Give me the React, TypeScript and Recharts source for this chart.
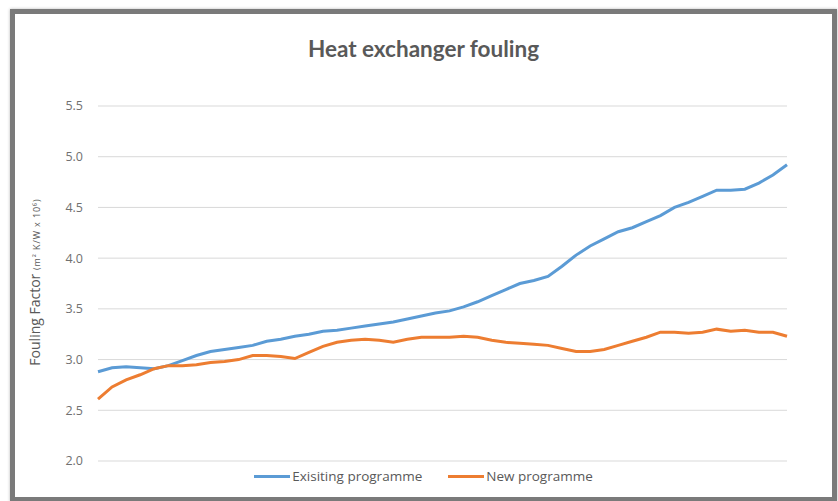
import React from 'react';
import { LineChart, Line, XAxis, YAxis, CartesianGrid, Legend } from 'recharts';

const existing = [
  2.88, 2.92, 2.93, 2.92, 2.91, 2.94, 2.99, 3.04, 3.08, 3.1, 3.12, 3.14, 3.18, 3.2, 3.23, 3.25, 3.28,
  3.29, 3.31, 3.33, 3.35, 3.37, 3.4, 3.43, 3.46, 3.48, 3.52, 3.57, 3.63, 3.69, 3.75, 3.78, 3.82, 3.92,
  4.03, 4.12, 4.19, 4.26, 4.3, 4.36, 4.42, 4.5, 4.55, 4.61, 4.67, 4.67, 4.68, 4.74, 4.82, 4.92,
];
const newProgramme = [
  2.61, 2.73, 2.8, 2.85, 2.91, 2.94, 2.94, 2.95, 2.97, 2.98, 3.0, 3.04, 3.04, 3.03, 3.01, 3.07, 3.13,
  3.17, 3.19, 3.2, 3.19, 3.17, 3.2, 3.22, 3.22, 3.22, 3.23, 3.22, 3.19, 3.17, 3.16, 3.15, 3.14, 3.11,
  3.08, 3.08, 3.1, 3.14, 3.18, 3.22, 3.27, 3.27, 3.26, 3.27, 3.3, 3.28, 3.29, 3.27, 3.27, 3.23,
];
const yTicks = [2, 2.5, 3, 3.5, 4, 4.5, 5, 5.5];
const seriesNames = ['Exisiting programme', 'New programme'];
const colors = ['#5b9bd5', '#ed7d31'];

const data = existing.map((v, i) => ({ sample: i, existing: v, newProg: newProgramme[i] }));

const YLabel = () => (
  <text transform="translate(25,268) rotate(-90)" textAnchor="middle" fill="#595959" fontFamily="Open Sans">
    <tspan fontSize={14}>Fouling Factor </tspan>
    <tspan fontSize={9} letterSpacing={0.9}>(m² K/W x 10⁶)</tspan>
  </text>
);

const LegendBox = () => (
  <div style={{ display: 'flex', justifyContent: 'center', fontFamily: 'Open Sans', fontSize: 13.5, color: '#595959' }}>
    {seriesNames.map((n, i) => (
      <div key={n} style={{ display: 'flex', alignItems: 'center', marginRight: i === 0 ? 26 : 0 }}>
        <span style={{ display: 'inline-block', width: 36, height: 3, background: colors[i], marginRight: 2 }} />
        <span>{n}</span>
      </div>
    ))}
  </div>
);

export default function App() {
  return (
    <div
      style={{
        position: 'absolute',
        left: 10,
        top: 9,
        width: 817,
        height: 483,
        border: '5px solid #7a7a7a',
        boxShadow: '0 0 3px #bbb',
        background: '#fff',
      }}
    >
      <div
        style={{
          position: 'absolute',
          top: 21,
          left: 0,
          width: 817,
          textAlign: 'center',
          fontFamily: 'Lato',
          fontWeight: 'bold',
          fontSize: 22.5,
          color: '#595959',
        }}
      >
        Heat exchanger fouling
      </div>
      <LineChart width={817} height={483} data={data} margin={{ top: 92, right: 45, bottom: 36, left: 0 }}>
        <CartesianGrid vertical={false} stroke="#d9d9d9" />
        <XAxis dataKey="sample" type="number" domain={[0, existing.length - 1]} hide />
        <YAxis
          width={83}
          domain={[2, 5.5]}
          ticks={yTicks}
          axisLine={false}
          tickLine={false}
          tickSize={0}
          tickMargin={15}
          tickFormatter={(v) => v.toFixed(1)}
          tick={{ fill: '#707070', fontSize: 12.5, fontFamily: 'Open Sans' }}
        />
        <Line type="linear" dataKey="existing" stroke={colors[0]} strokeWidth={3} dot={false} isAnimationActive={false} />
        <Line type="linear" dataKey="newProg" stroke={colors[1]} strokeWidth={3} dot={false} isAnimationActive={false} />
        <Legend verticalAlign="middle" content={<LegendBox />} wrapperStyle={{ top: 453, left: 0, width: 817 }} />
        <YLabel />
      </LineChart>
    </div>
  );
}
